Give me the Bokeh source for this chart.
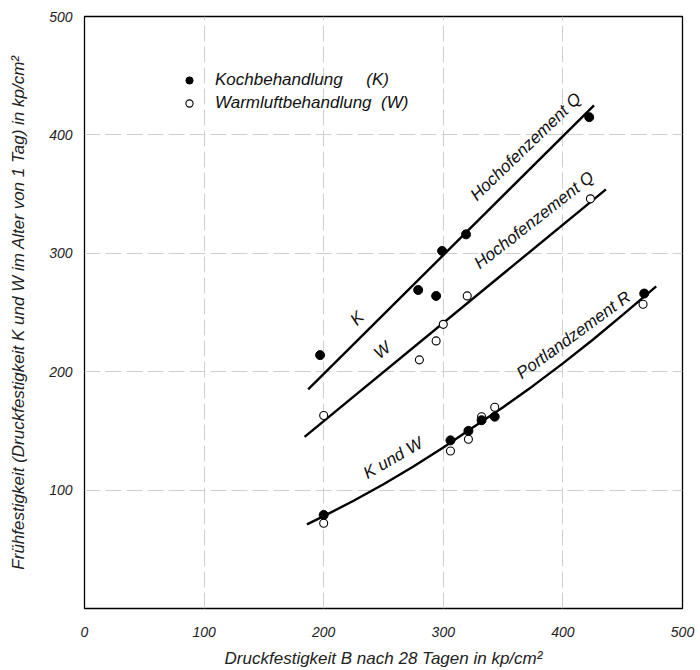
from bokeh.plotting import figure
from bokeh.models import FixedTicker, Legend, LegendItem, ColumnDataSource
from bokeh.core.properties import value
from bokeh.embed import file_html
from bokeh.resources import INLINE

# ---------------- data ----------------
# Hochofenzement Q, Kochbehandlung (K)
hk_x = [197, 279, 294, 299, 319, 422]
hk_y = [214, 269, 264, 302, 316, 415]
# Hochofenzement Q, Warmluftbehandlung (W)
hw_x = [200, 280, 294, 300, 320, 423]
hw_y = [163, 210, 226, 240, 264, 346]
# Portlandzement R, Kochbehandlung (K)
pk_x = [200, 306, 321, 332, 343, 468]
pk_y = [79, 142, 150, 159, 162, 266]
# Portlandzement R, Warmluftbehandlung (W)
pw_x = [200, 306, 321, 332, 343, 467]
pw_y = [72, 133, 143, 162, 170, 257]

# drawn fit lines
k_line_x = [187, 426]
k_line_y = [185, 425]
w_line_x = [184, 436]
w_line_y = [145, 354]
p_curve_x = [186, 200, 225, 250, 275, 300, 325, 350, 375, 400, 425, 450, 478]
p_curve_y = [71, 78, 91, 105, 120, 136, 153, 170, 188, 207, 227, 248, 272]

x_ticks = [0, 100, 200, 300, 400, 500]
y_ticks = [100, 200, 300, 400, 500]

# line annotations (centre of each label)
ann_text = ["Hochofenzement Q", "Hochofenzement Q", "Portlandzement R", "K", "W", "K und W"]
ann_x = [369, 376, 409, 228, 249, 258]
ann_y = [390, 328, 231, 245, 218, 127]
ann_angle = [44, 38, 36, 45, 39, 30]

FONT = "Liberation Sans"

p = figure(width=698, height=670, x_range=(0, 500), y_range=(0, 500),
           output_backend="svg", toolbar_location=None,
           min_border_left=84, min_border_right=16, min_border_top=16, min_border_bottom=62)

p.outline_line_color = "black"
p.outline_line_width = 1.3
p.background_fill_color = "white"

for ax in (p.xaxis[0], p.yaxis[0]):
    ax.axis_line_color = None
    ax.major_tick_line_color = None
    ax.minor_tick_line_color = None
    ax.major_label_text_font = FONT
    ax.major_label_text_font_style = "italic"
    ax.major_label_text_font_size = "14px"
    ax.major_label_text_color = "#222222"
    ax.axis_label_text_font = FONT
    ax.axis_label_text_font_style = "italic"
    ax.axis_label_text_font_size = "17px"
    ax.axis_label_text_color = "#222222"

p.xaxis.ticker = FixedTicker(ticks=x_ticks)
p.yaxis.ticker = FixedTicker(ticks=y_ticks)
p.xaxis.major_label_standoff = 12
p.xaxis.axis_label_standoff = 9
p.yaxis.major_label_standoff = 6
p.yaxis.axis_label_standoff = 18
p.xaxis.axis_label = "Druckfestigkeit B nach 28 Tagen in kp/cm²"
p.yaxis.axis_label = "Frühfestigkeit (Druckfestigkeit K und W im Alter von 1 Tag) in kp/cm²"

p.grid.grid_line_color = "#cfcfcf"
p.grid.grid_line_width = 1
p.grid.grid_line_dash = "16 5"

# fit lines
p.line(k_line_x, k_line_y, line_color="black", line_width=2.4)
p.line(w_line_x, w_line_y, line_color="black", line_width=2.4)
p.line(p_curve_x, p_curve_y, line_color="black", line_width=2.4, line_join="round")

# points
r_hw = p.scatter(hw_x, hw_y, marker="circle", size=8, fill_color="white", line_color="black", line_width=1.1)
r_pw = p.scatter(pw_x, pw_y, marker="circle", size=8, fill_color="white", line_color="black", line_width=1.1)
r_hk = p.scatter(hk_x, hk_y, marker="circle", size=9, fill_color="black", line_color="black")
r_pk = p.scatter(pk_x, pk_y, marker="circle", size=9, fill_color="black", line_color="black")

# curve labels
src = ColumnDataSource(dict(x=ann_x, y=ann_y, text=ann_text, angle=ann_angle))
p.text(x="x", y="y", text="text", angle="angle", angle_units="deg", source=src,
       text_font=value(FONT), text_font_style="italic", text_font_size="17px",
       text_align="center", text_baseline="middle", text_color="#111111")

legend = Legend(items=[LegendItem(label="Kochbehandlung\u00a0\u00a0\u00a0\u00a0\u00a0(K)", renderers=[r_hk]),
                       LegendItem(label="Warmluftbehandlung\u00a0\u00a0(W)", renderers=[r_hw])],
                location=(96, 495), orientation="vertical",
                glyph_width=18, glyph_height=20, label_height=20, spacing=3,
                padding=0, margin=0, label_standoff=17,
                border_line_color=None, background_fill_alpha=0,
                label_text_font=FONT, label_text_font_style="italic",
                label_text_font_size="17px", label_text_color="#111111")
p.add_layout(legend, "center")

open("out.html", "w").write(file_html(p, INLINE))
